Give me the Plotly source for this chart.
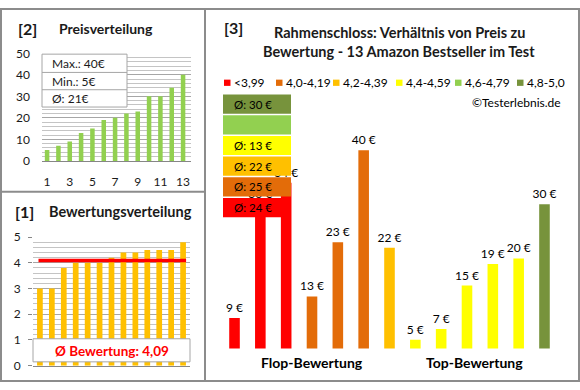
import plotly.graph_objects as go

W, H = 580, 390


def fx(p):
    return p / W


def fy(p):
    return 1 - p / H


# ---------------- data ----------------
price_idx = list(range(1, 14))
prices = [5, 7, 9, 13, 15, 19, 20, 22, 23, 30, 30, 34, 40]
price_ticks = [1, 3, 5, 7, 9, 11, 13]

rating_idx = list(range(1, 14))
ratings = [3.0, 3.0, 3.8, 4.0, 4.0, 4.0, 4.2, 4.4, 4.4, 4.5, 4.5, 4.5, 4.8]
rating_avg = 4.09  # as shown in the chart

cmp_idx = list(range(1, 14))
cmp_prices = [9, 30, 34, 13, 23, 40, 22, 5, 7, 15, 19, 20, 30]
cmp_ratings = [3.0, 3.0, 3.8, 4.0, 4.0, 4.0, 4.2, 4.4, 4.4, 4.5, 4.5, 4.5, 4.8]

class_labels = ["<3,99", "4,0-4,19", "4,2-4,39", "4,4-4,59", "4,6-4,79", "4,8-5,0"]
class_bounds = [0, 3.995, 4.195, 4.395, 4.595, 4.795, 5.01]
class_colors = ["#FF0000", "#E36C09", "#FFC000", "#FFFF00", "#92D050", "#77933C"]


def rating_class(r):
    for i in range(len(class_labels)):
        if class_bounds[i] <= r < class_bounds[i + 1]:
            return i
    return len(class_labels) - 1


cmp_classes = [rating_class(r) for r in cmp_ratings]
cmp_colors = [class_colors[c] for c in cmp_classes]

FONT = "Lato"
TXT = "#1a1a1a"
BORDER = "#8C8C8C"
GRID = "#A6A6A6"
MINOR = "#C4C4C4"

fig = go.Figure()

# [2] Preisverteilung
fig.add_trace(go.Bar(x=price_idx, y=prices, marker=dict(color="#92D050", line=dict(width=0)),
                     width=0.4, xaxis="x", yaxis="y", hoverinfo="skip"))
# [1] Bewertungsverteilung
fig.add_trace(go.Bar(x=rating_idx, y=ratings, marker=dict(color="#FFC000", line=dict(width=0)),
                     width=0.48, xaxis="x2", yaxis="y2", hoverinfo="skip"))
# [3] Preis vs Bewertung
fig.add_trace(go.Bar(x=cmp_idx, y=cmp_prices, marker=dict(color=cmp_colors, line=dict(width=0)),
                     width=0.41, xaxis="x3", yaxis="y3", hoverinfo="skip",
                     text=[f"{p} €" for p in cmp_prices], textposition="outside",
                     constraintext="none",
                     textfont=dict(family=FONT, size=12, color="black")))

shapes = []
annotations = []

# panel borders
shapes.append(dict(type="rect", xref="paper", yref="paper", x0=fx(1), x1=fx(579), y0=fy(388), y1=fy(1),
                   line=dict(color=BORDER, width=2), layer="above"))
shapes.append(dict(type="line", xref="paper", yref="paper", x0=fx(205), x1=fx(205), y0=fy(388), y1=fy(1),
                   line=dict(color=BORDER, width=2), layer="above"))
shapes.append(dict(type="line", xref="paper", yref="paper", x0=fx(1), x1=fx(205), y0=fy(191), y1=fy(191),
                   line=dict(color=BORDER, width=2), layer="above"))


def ann(x, y, text, size=12, bold=False, color=TXT, xanchor="center", yanchor="middle"):
    annotations.append(dict(xref="paper", yref="paper", x=fx(x), y=fy(y), text=f"<b>{text}</b>" if bold else text,
                            showarrow=False, xanchor=xanchor, yanchor=yanchor,
                            font=dict(family=FONT, size=size, color=color)))


# ---- panel [2] ----
ann(16, 21, "[2]", size=16, bold=True, xanchor="left")
ann(57, 21, "Preisverteilung", size=14, bold=True, xanchor="left")
shapes.append(dict(type="rect", xref="paper", yref="paper", x0=fx(42), x1=fx(127), y0=fy(103), y1=fy(48),
                   fillcolor="white", line=dict(color=GRID, width=1), layer="above"))
for yy in (67, 85):
    shapes.append(dict(type="line", xref="paper", yref="paper", x0=fx(42), x1=fx(127), y0=fy(yy), y1=fy(yy),
                       line=dict(color=GRID, width=1), layer="above"))
avg_price = round(sum(prices) / len(prices))
ann(50, 58, f"Max.: {max(prices)}€", size=12, xanchor="left")
ann(50, 76, f"Min.: {min(prices)}€", size=12, xanchor="left")
ann(50, 94, f"Ø: {avg_price}€", size=12, xanchor="left")

# ---- panel [1] ----
ann(13, 212, "[1]", size=16, bold=True, xanchor="left")
ann(47, 212, "Bewertungsverteilung", size=14.5, bold=True, xanchor="left")
shapes.append(dict(type="line", xref="x2 domain", yref="y2", x0=0.035, x1=0.975, y0=rating_avg, y1=rating_avg,
                   line=dict(color="#FF0000", width=3.5), layer="above"))
shapes.append(dict(type="rect", xref="paper", yref="paper", x0=fx(33), x1=fx(190), y0=fy(368), y1=fy(344),
                   fillcolor="white", line=dict(color=GRID, width=1), layer="above"))
ann(111.5, 356.5, "Ø Bewertung: " + f"{rating_avg:.2f}".replace(".", ","), size=13.5, bold=True, color="#FF0000")

# ---- panel [3] ----
ann(222, 20, "[3]", size=16, bold=True, xanchor="left")
ann(399, 25, "Rahmenschloss: Verhältnis von Preis zu", size=14.5, bold=True)
ann(399, 45, "Bewertung - 13 Amazon Bestseller im Test", size=14.5, bold=True)

legend_x = [224, 276, 333, 396, 455, 517]
for lx, lab, col in zip(legend_x, class_labels, class_colors):
    shapes.append(dict(type="rect", xref="paper", yref="paper", x0=fx(lx), x1=fx(lx + 6.5), y0=fy(81), y1=fy(74.5),
                       fillcolor=col, line=dict(width=0), layer="above"))
    ann(lx + 7.5, 77.5, lab, size=12, xanchor="left", color="black")

ann(563, 98, "©Testerlebnis.de", size=12, xanchor="right", color="black")

# average boxes (from top: best class to worst)
box_top = 90
box_h = 20
box_step = 21.5
for k, ci in enumerate(range(len(class_labels) - 1, -1, -1)):
    y0 = box_top + k * box_step
    y1 = y0 + box_h
    shapes.append(dict(type="rect", xref="paper", yref="paper", x0=fx(223), x1=fx(291), y0=fy(y1), y1=fy(y0),
                       fillcolor=class_colors[ci], line=dict(width=0), layer="above"))
    vals = [p for p, c in zip(cmp_prices, cmp_classes) if c == ci]
    if vals:
        ann(232, (y0 + y1) / 2, f"Ø: {round(sum(vals) / len(vals))} €", size=11.5, xanchor="left", color="black")

ann(312, 369, "Flop-Bewertung", size=14, bold=True, color="black")
ann(474, 369, "Top-Bewertung", size=14, bold=True, color="black")

tickfont = dict(family=FONT, size=12, color=TXT)

fig.update_layout(
    width=W, height=H, margin=dict(l=0, r=0, t=0, b=0),
    paper_bgcolor="white", plot_bgcolor="rgba(0,0,0,0)",
    showlegend=False, hovermode=False,
    shapes=shapes, annotations=annotations,
    xaxis=dict(domain=[fx(42), fx(191)], range=[0.55, 13.7], anchor="y", tickvals=price_ticks,
               showgrid=False, showline=True, linecolor="#868686", ticks="", tickfont=tickfont,
               ticklabelstandoff=10, zeroline=False, fixedrange=True),
    yaxis=dict(domain=[fy(159), fy(47)], range=[0, 50.05], anchor="x", dtick=10, showgrid=True,
               gridcolor=GRID, minor=dict(dtick=2, showgrid=True, gridcolor=MINOR, gridwidth=1),
               zeroline=False, showline=False, ticks="", tickfont=tickfont, ticklabelstandoff=11,
               fixedrange=True),
    xaxis2=dict(domain=[fx(33), fx(190)], range=[0.42, 13.58], anchor="y2", showticklabels=False,
                showgrid=False, showline=True, linecolor="#868686", ticks="", zeroline=False, fixedrange=True),
    yaxis2=dict(domain=[fy(372), fy(238)], range=[0, 5.01], anchor="x2", dtick=1, showgrid=True,
                gridcolor=GRID, minor=dict(dtick=0.2, showgrid=True, gridcolor=MINOR, gridwidth=1),
                zeroline=False, showline=False, ticks="outside", ticklen=4, tickcolor="#868686",
                tickfont=tickfont, ticklabelstandoff=5, fixedrange=True),
    xaxis3=dict(domain=[fx(221.6), fx(557.4)], range=[0.5, 13.5], anchor="y3", visible=False, fixedrange=True),
    yaxis3=dict(domain=[fy(354), fy(100)], range=[3.4, 48.5], anchor="x3", visible=False, fixedrange=True),
)

fig.write_html("out.html", post_script="document.body.style.margin='0';",
               config={"displayModeBar": False, "staticPlot": True})
